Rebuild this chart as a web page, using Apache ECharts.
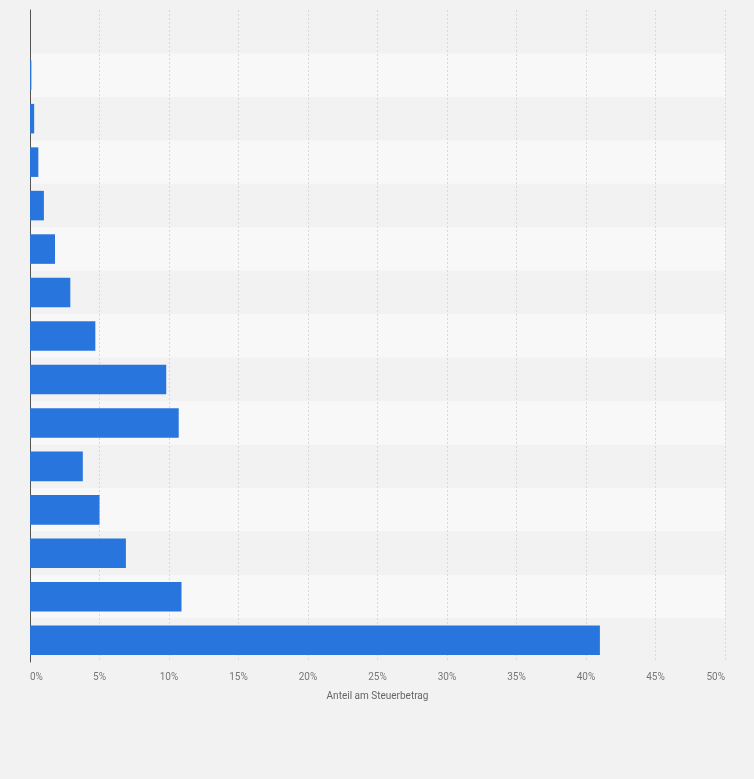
<!DOCTYPE html>
<html>
<head>
<meta charset="utf-8">
<script src="https://cdn.jsdelivr.net/npm/echarts@6/dist/echarts.min.js"></script>
<style>
html,body{margin:0;padding:0;background:#f2f2f2;}
#chart{width:754px;height:779px;}
</style>
</head>
<body>
<div id="chart"></div>
<script>
const categories = ['K1','K2','K3','K4','K5','K6','K7','K8','K9','K10','K11','K12','K13','K14','K15'];
const shares = [0, 0.1, 0.3, 0.6, 1.0, 1.8, 2.9, 4.7, 9.8, 10.7, 3.8, 5.0, 6.9, 10.9, 41.0];
const xTicks = { min: 0, max: 50, interval: 5 };
const axisTitle = 'Anteil am Steuerbetrag';

const chart = echarts.init(document.getElementById('chart'), null, {renderer: 'canvas'});
chart.setOption({
  backgroundColor: '#f2f2f2',
  animation: false,
  grid: { left: 30, right: 29, top: 10, bottom: 117, containLabel: false },
  xAxis: {
    type: 'value',
    min: xTicks.min, max: xTicks.max, interval: xTicks.interval,
    name: axisTitle,
    nameLocation: 'middle',
    nameGap: 29,
    nameTextStyle: { color: '#666', fontSize: 10, fontFamily: 'Roboto' },
    axisLine: { show: false },
    axisTick: { show: false },
    axisLabel: {
      formatter: '{value}%', color: '#777', fontSize: 10, fontFamily: 'Roboto',
      margin: 10, alignMinLabel: 'left', alignMaxLabel: 'right'
    },
    splitLine: { show: true, lineStyle: { color: '#d9d9d9', type: [2, 2], width: 1 } }
  },
  yAxis: {
    type: 'category',
    data: categories,
    inverse: true,
    axisLine: { show: true, lineStyle: { color: '#555', width: 1 } },
    axisTick: { show: false },
    axisLabel: { show: false },
    splitLine: { show: false },
    splitArea: { show: true, areaStyle: { color: ['#f2f2f2', '#f8f8f8'] } }
  },
  series: [{
    type: 'bar',
    data: shares,
    barCategoryGap: '32%',
    itemStyle: { color: '#2876dd' }
  }]
});
</script>
</body>
</html>
